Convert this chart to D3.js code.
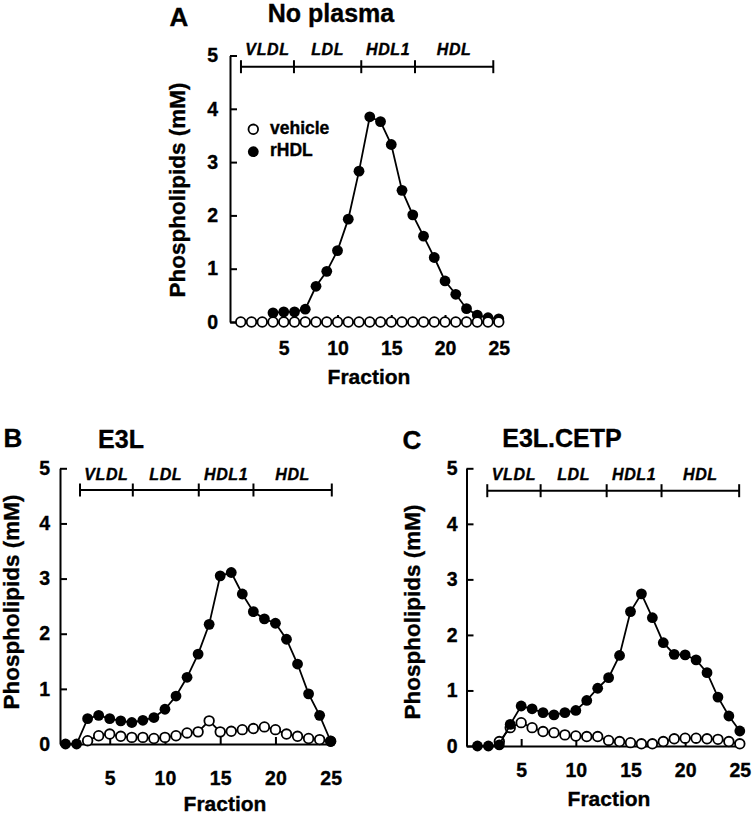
<!DOCTYPE html>
<html><head><meta charset="utf-8">
<script src="https://cdn.jsdelivr.net/npm/d3@7/dist/d3.min.js"></script>
<style>
body{margin:0;background:#fff}
svg text{font-family:"Liberation Sans",Arial,Helvetica,sans-serif;font-weight:bold;fill:#000;stroke:#000;stroke-width:0.35px}
</style>
</head><body><svg id="chart" width="754" height="815"></svg>
<script>
// ---------- data ----------
const fractions = [1,2,3,4,5,6,7,8,9,10,11,12,13,14,15,16,17,18,19,20,21,22,23,24,25];
const yTicks = [0,1,2,3,4,5];
const xTicks = [5,10,15,20,25];
const regionLabels = ["VLDL","LDL","HDL1","HDL"];
const seriesNames = ["vehicle","rHDL"];
const panelTitles = ["No plasma","E3L","E3L.CETP"];
const panelLetters = ["A","B","C"];

const aVehicle = [0,0,0,0,0,0,0,0,0,0,0,0,0,0,0,0,0,0,0,0,0,0,0,0,0];
const aRHDL    = [null,null,null,0.17,0.19,0.19,0.24,0.67,0.95,1.34,1.93,2.83,3.85,3.76,3.33,2.47,2.01,1.61,1.21,0.77,0.52,0.25,0.13,0.08,0.06];
const bVehicle = [null,null,0.06,0.15,0.18,0.14,0.12,0.12,0.10,0.12,0.15,0.20,0.22,0.42,0.22,0.23,0.26,0.28,0.31,0.26,0.18,0.14,0.10,0.08,0.05];
const bRHDL    = [0,0,0.46,0.52,0.46,0.42,0.39,0.43,0.48,0.63,0.87,1.21,1.63,2.17,3.05,3.11,2.72,2.40,2.27,2.19,1.90,1.45,0.91,0.52,0.05];
const cVehicle = [null,null,0.08,0.33,0.42,0.33,0.26,0.24,0.20,0.18,0.17,0.17,0.10,0.08,0.06,0.04,0.04,0.08,0.13,0.14,0.14,0.13,0.12,0.08,0.04];
const cRHDL    = [0,0,0.02,0.39,0.72,0.67,0.60,0.56,0.60,0.64,0.82,1.04,1.23,1.63,2.42,2.74,2.31,1.86,1.65,1.64,1.55,1.32,0.88,0.54,0.27];

// region bracket boundaries (fraction units) per panel
const bracketA = [1.02, 5.95, 12.21, 17.21, 24.49];
const bracketB = [2.31, 7.09, 13.06, 18.01, 25.1];
const bracketC = [1.90, 6.78, 12.82, 17.84, 24.94];

// ---------- layout ----------
const svg = d3.select("#chart");
const panels = [
  {letter:panelLetters[0], title:panelTitles[0], vehicle:aVehicle, rhdl:aRHDL, bracket:bracketA,
   xDom:[0,25.3], xRange:[230,502], yRange:[322,55.5], openOnTop:true, legend:true,
   xPad:19.5, yPad:12, xTitleY:384, xTitleX:369, yTitleX:185, yTitleY:190,
   letterPos:[179,26], titlePos:[331,22], bracketY:66.7, regionY:55},
  {letter:panelLetters[1], title:panelTitles[1], vehicle:bVehicle, rhdl:bRHDL, bracket:bracketB,
   xDom:[0.5,25.3], xRange:[60,334], yRange:[744,468.3], openOnTop:false, legend:false,
   xPad:27, yPad:10, xTitleY:811, xTitleX:225, yTitleX:18.5, yTitleY:602,
   letterPos:[13,447], titlePos:[121,448], bracketY:490, regionY:480},
  {letter:panelLetters[2], title:panelTitles[2], vehicle:cVehicle, rhdl:cRHDL, bracket:bracketC,
   xDom:[0,25.2], xRange:[466.5,742], yRange:[746,468.3], openOnTop:false, legend:false,
   xPad:17.5, yPad:9, xTitleY:806, xTitleX:609, yTitleX:420, yTitleY:612,
   letterPos:[412,449], titlePos:[562,447], bracketY:490.7, regionY:480}
];

function drawPanel(p){
  const g = svg.append("g");
  const x = d3.scaleLinear().domain(p.xDom).range(p.xRange);
  const y = d3.scaleLinear().domain([0,5]).range(p.yRange);

  // axes
  const xAxis = d3.axisBottom(x).tickValues(xTicks).tickFormat(d3.format("d"))
    .tickSizeInner(-7).tickSizeOuter(0).tickPadding(p.xPad);
  const yAxis = d3.axisLeft(y).tickValues(yTicks).tickFormat(d3.format("d"))
    .tickSizeInner(-7).tickSizeOuter(0).tickPadding(p.yPad);
  const gx = g.append("g").attr("transform",`translate(0,${p.yRange[0]})`).call(xAxis);
  const gy = g.append("g").attr("transform",`translate(${p.xRange[0]},0)`).call(yAxis);
  [gx,gy].forEach(a=>{
    a.attr("font-family",null).attr("font-size",null);
    a.selectAll("path,line").attr("stroke","#000").attr("stroke-width",2);
    a.selectAll("text").style("font-size","19.5px");
  });

  // axis titles
  g.append("text").attr("x",p.xTitleX).attr("y",p.xTitleY).attr("text-anchor","middle")
    .style("font-size","21px").text("Fraction");
  g.append("text").attr("transform",`translate(${p.yTitleX},${p.yTitleY}) rotate(-90)`)
    .attr("text-anchor","middle").style("font-size","22.5px").text("Phospholipids (mM)");

  // panel letter & title
  g.append("text").attr("x",p.letterPos[0]).attr("y",p.letterPos[1]).attr("text-anchor","middle")
    .style("font-size","26px").text(p.letter);
  g.append("text").attr("x",p.titlePos[0]).attr("y",p.titlePos[1]).attr("text-anchor","middle")
    .style("font-size","25px").text(p.title);

  // region bracket
  const b = p.bracket;
  g.append("line").attr("x1",x(b[0])).attr("x2",x(b[b.length-1]))
    .attr("y1",p.bracketY).attr("y2",p.bracketY).attr("stroke","#000").attr("stroke-width",2);
  g.selectAll(null).data(b).enter().append("line")
    .attr("x1",d=>x(d)).attr("x2",d=>x(d))
    .attr("y1",p.bracketY-6.5).attr("y2",p.bracketY+6.5).attr("stroke","#000").attr("stroke-width",2);
  g.selectAll(null).data(regionLabels).enter().append("text")
    .attr("x",(d,i)=>(x(b[i])+x(b[i+1]))/2).attr("y",p.regionY)
    .attr("text-anchor","middle").style("font-size","16px").style("font-style","italic")
    .style("letter-spacing","0.6px").text(d=>d);

  // series
  const toPts = arr => fractions.map((f,i)=>({f, v:arr[i]}));
  const line = d3.line().defined(d=>d.v!=null).x(d=>x(d.f)).y(d=>y(d.v));
  const drawOpen = () => {
    const pts = toPts(p.vehicle);
    g.append("path").datum(pts).attr("d",line).attr("fill","none").attr("stroke","#000").attr("stroke-width",1.8);
    g.selectAll(null).data(pts.filter(d=>d.v!=null)).enter().append("circle")
      .attr("cx",d=>x(d.f)).attr("cy",d=>y(d.v)).attr("r",4.8)
      .attr("fill","#fff").attr("stroke","#000").attr("stroke-width",1.8);
  };
  const drawFilled = () => {
    const pts = toPts(p.rhdl);
    g.append("path").datum(pts).attr("d",line).attr("fill","none").attr("stroke","#000").attr("stroke-width",1.8);
    g.selectAll(null).data(pts.filter(d=>d.v!=null)).enter().append("circle")
      .attr("cx",d=>x(d.f)).attr("cy",d=>y(d.v)).attr("r",5.4).attr("fill","#000");
  };
  if (p.openOnTop){ drawFilled(); drawOpen(); } else { drawOpen(); drawFilled(); }

  // legend
  if (p.legend){
    const lg = g.append("g");
    lg.append("circle").attr("cx",253.3).attr("cy",129.3).attr("r",4.8)
      .attr("fill","#fff").attr("stroke","#000").attr("stroke-width",1.8);
    lg.append("circle").attr("cx",253.3).attr("cy",151.7).attr("r",5.4).attr("fill","#000");
    lg.append("text").attr("x",270).attr("y",134.3).style("font-size","17.5px").text(seriesNames[0]);
    lg.append("text").attr("x",270).attr("y",155.5).style("font-size","17.5px").text(seriesNames[1]);
  }
}
panels.forEach(drawPanel);
</script></body></html>
